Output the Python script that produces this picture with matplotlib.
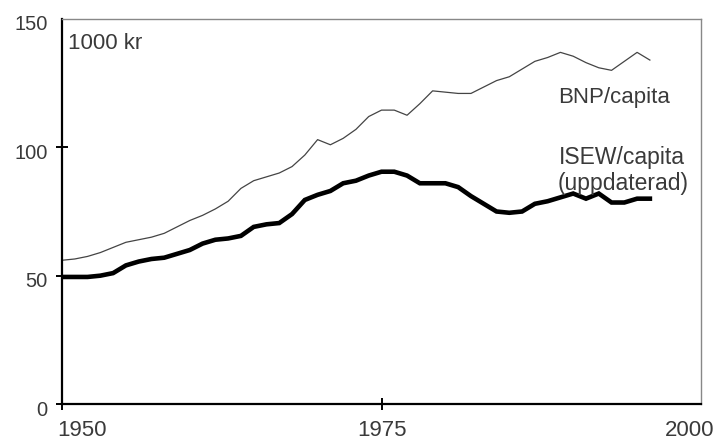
import matplotlib
matplotlib.use("Agg")
import matplotlib.pyplot as plt
from matplotlib.transforms import ScaledTranslation

# Data (1000 kr per capita)
years = list(range(1950, 1997))
bnp = [56, 56.5, 57.5, 59, 61, 63, 64, 65, 66.5, 69,
       71.5, 73.5, 76, 79, 84, 87, 88.5, 90, 92.5, 97,
       103, 101, 103.5, 107, 112, 114.5, 114.5, 112.5, 117, 122,
       121.5, 121, 121, 123.5, 126, 127.5, 130.5, 133.5, 135, 137,
       135.5, 133, 131, 130, 133.5, 137, 134]
isew = [49.5, 49.5, 49.5, 50, 51, 54, 55.5, 56.5, 57, 58.5,
        60, 62.5, 64, 64.5, 65.5, 69, 70, 70.5, 74, 79.5,
        81.5, 83, 86, 87, 89, 90.5, 90.5, 89, 86, 86,
        86, 84.5, 81, 78, 75, 74.5, 75, 78, 79, 80.5,
        82, 80, 82, 78.5, 78.5, 80, 80]
xticks = [1950, 1975, 2000]
yticks = [0, 50, 100, 150]

plt.rcParams['font.family'] = ['Liberation Sans', 'DejaVu Sans']
textcol = '#3a3a3a'

fig = plt.figure(figsize=(7.18, 4.42), dpi=100)
ax = fig.add_axes([62 / 718, 1 - 404 / 442, (701 - 62) / 718, (404 - 19) / 442])

ax.plot(years, bnp, color='#444444', lw=0.9)
ax.plot(years, isew, color='black', lw=3.3, solid_joinstyle='miter')

ax.set_xlim(1950, 2000)
ax.set_ylim(0, 150)

ax.set_xticks(xticks)
ax.set_yticks(yticks)
ax.tick_params(axis='both', direction='inout', length=9, width=1.4,
               labelcolor=textcol, colors='black')
ax.tick_params(axis='x', pad=7, labelsize=16)
ax.tick_params(axis='y', pad=6, labelsize=14.5)

# no tick marks at the box corners
ax.yaxis.get_major_ticks()[3].tick1line.set_visible(False)
ax.xaxis.get_major_ticks()[2].tick1line.set_visible(False)

px = 1 / 100
xl = ax.get_xticklabels()
xl[0].set_ha('left')
xl[0].set_transform(xl[0].get_transform() + ScaledTranslation(-5 * px, 0, fig.dpi_scale_trans))
xl[2].set_transform(xl[2].get_transform() + ScaledTranslation(-11 * px, 0, fig.dpi_scale_trans))
for lab in ax.get_yticklabels():
    lab.set_transform(lab.get_transform() + ScaledTranslation(0, -4 * px, fig.dpi_scale_trans))

for s in ['left', 'bottom']:
    ax.spines[s].set_linewidth(1.6)
    ax.spines[s].set_color('black')
for s in ['top', 'right']:
    ax.spines[s].set_linewidth(1.0)
    ax.spines[s].set_color('#888888')

ax.text(1950.45, 140.5, "1000 kr", fontsize=16, color=textcol, va='center', ha='left')
ax.text(1993.2, 119.6, "BNP/capita", fontsize=16, color=textcol, va='center', ha='center')
ax.text(1993.8, 96.2, "ISEW/capita", fontsize=16.5, color=textcol, va='center', ha='center')
ax.text(1993.9, 86.1, "(uppdaterad)", fontsize=16.5, color=textcol, va='center', ha='center')

fig.savefig("out.png", dpi=100)
